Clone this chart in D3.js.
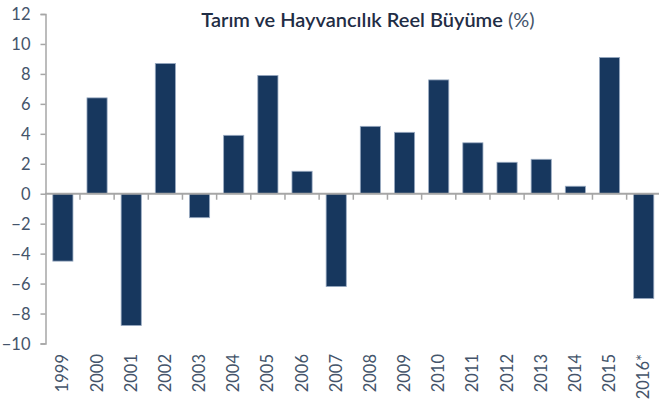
<!DOCTYPE html>
<html>
<head>
<meta charset="utf-8">
<script src="https://cdn.jsdelivr.net/npm/d3@7"></script>
<style>
  html, body { margin: 0; padding: 0; background: #fff; }
  svg { display: block; }
</style>
</head>
<body>
<svg id="chart" width="659" height="407"></svg>
<script>
const categories = ["1999","2000","2001","2002","2003","2004","2005","2006","2007","2008","2009","2010","2011","2012","2013","2014","2015","2016*"];
const values = [-4.5, 6.4, -8.8, 8.7, -1.6, 3.9, 7.9, 1.5, -6.2, 4.5, 4.1, 7.6, 3.4, 2.1, 2.3, 0.5, 9.1, -7.0];
const yTicks = [12, 10, 8, 6, 4, 2, 0, -2, -4, -6, -8, -10];
const titleMain = "Tarım ve Hayvancılık Reel Büyüme";
const titleUnit = " (%)";

const svg = d3.select("#chart");
const font = "Lato, 'Open Sans', sans-serif";
const axisColor = "#a6a6a6";
const textColor = "#44546a";
const barColor = "#17375e";

const x = d3.scaleBand().domain(categories).range([45.8, 660.8]).paddingInner(0.41).paddingOuter(0.205);
const y = d3.scaleLinear().domain([-10, 12]).range([343.5, 14]);

// bars
svg.append("g").selectAll("rect").data(values).join("rect")
  .attr("x", (d, i) => x(categories[i]))
  .attr("width", x.bandwidth())
  .attr("y", d => y(Math.max(0, d)))
  .attr("height", d => Math.abs(y(d) - y(0)))
  .attr("fill", barColor)
  .attr("stroke", "#9aabc2")
  .attr("stroke-width", 0.8);

// y axis
const yAxis = d3.axisLeft(y).tickValues(yTicks).tickSize(5).tickPadding(10).tickFormat(d3.format("d"));
const gy = svg.append("g").attr("transform", "translate(45.5,0)").call(yAxis);
gy.select(".domain").attr("stroke", axisColor).attr("stroke-width", 1.5);
gy.selectAll(".tick line").attr("stroke", axisColor).attr("stroke-width", 1.5);
gy.selectAll(".tick text").attr("fill", textColor).attr("font-family", font).attr("font-size", 16.5).attr("dy", "0.35em");

// x axis at zero line
const boundaries = categories.map((c, i) => x(c) - x.step() * x.paddingInner() / 2);
const gx = svg.append("g");
gx.append("line").attr("x1", 45).attr("x2", 659).attr("y1", y(0)).attr("y2", y(0))
  .attr("stroke", axisColor).attr("stroke-width", 2);
gx.selectAll("line.tk").data(boundaries.slice(1)).join("line").attr("class", "tk")
  .attr("x1", d => d).attr("x2", d => d).attr("y1", y(0)).attr("y2", y(0) + 6)
  .attr("stroke", axisColor).attr("stroke-width", 1.5);

// x labels
svg.append("g").selectAll("text").data(categories).join("text")
  .attr("transform", d => `translate(${x(d) + x.bandwidth() / 2 + 5.5},354) rotate(-90)`)
  .attr("text-anchor", "end")
  .attr("fill", textColor).attr("font-family", font).attr("font-size", 16.5)
  .text(d => d);

// title
const title = svg.append("text").attr("x", 368).attr("y", 27).attr("text-anchor", "middle")
  .attr("font-family", font).attr("font-size", 20).attr("fill", "#1f2d45");
title.append("tspan").attr("font-weight", 600).text(titleMain);
title.append("tspan").attr("font-weight", 400).attr("fill", textColor).text(titleUnit);
</script>
</body>
</html>
